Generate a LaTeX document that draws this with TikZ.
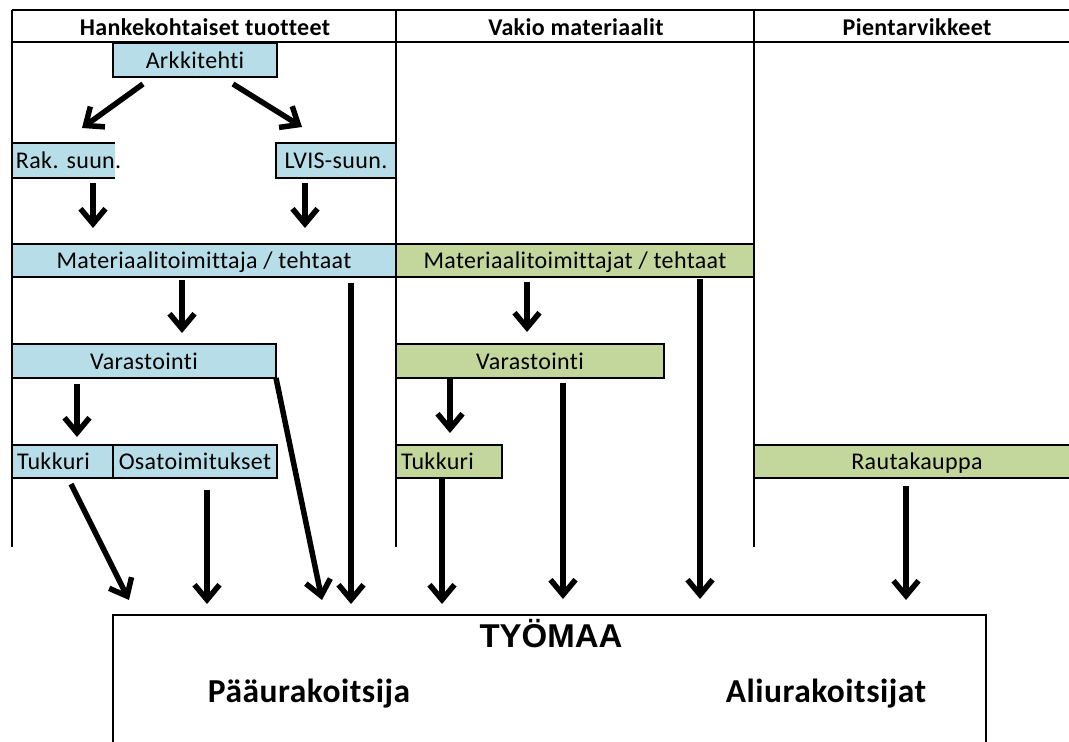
\documentclass[tikz,border=0pt]{standalone}
\usepackage{fontspec}
\setmainfont{Carlito}[LetterSpace=1.5, Ligatures=NoCommon]
\newfontfamily\sitefont{Liberation Sans}
\usetikzlibrary{arrows.meta,calc}

\definecolor{boxblue}{RGB}{183,222,232}
\definecolor{boxgreen}{RGB}{195,214,155}

\begin{document}
\begin{tikzpicture}[x=1pt,y=-1pt,
  tabline/.style={line width=2.5pt},
  box/.style={line width=2pt, inner sep=0pt, outer sep=0pt,
    font=\fontsize{24}{28}\selectfont, text height=21pt, text depth=4.4pt},
  bluebox/.style={box, draw, fill=boxblue},
  greenbox/.style={box, draw, fill=boxgreen},
  head/.style={inner sep=0pt, anchor=base, font=\bfseries\fontsize{24}{28}\selectfont},
  big/.style={inner sep=0pt, anchor=base, font=\sitefont\bfseries\fontsize{33}{38}\selectfont},
  party/.style={inner sep=0pt, anchor=base, font=\bfseries\fontsize{33.5}{38}\selectfont},
  arr/.style={line width=5.5pt, -{Straight Barb[length=15pt,width=25pt]}},
]
\useasboundingbox (0,0) rectangle (1069,742);
\fill[white] (0,0) rectangle (1069,742);
\clip (0,0) rectangle (1069,742);

% table frame
\draw[line width=1.5pt] (12,10) -- (1069,10);
\draw[tabline] (12,42) -- (1069,42);
\draw[line width=1.5pt] (12,10) -- (12,547);
\draw[tabline] (396,10) -- (396,547);
\draw[tabline] (754,10) -- (754,547);

% column headings
\node[head] (h1) at (205,35) {Hankekohtaiset tuotteet};
\node[head] (h2) at (576,35) {Vakio materiaalit};
\node[head] (h3) at (917,35) {Pientarvikkeet};

% project-specific products
\node[bluebox, minimum width=164pt, minimum height=34pt] (ark) at (195,60) {Arkkitehti};
\node[box, fill=boxblue, minimum height=35pt, text width=95pt, inner xsep=4pt, align=left] (rak) at (63.5,160.5) {Rak.~suun.};
\draw[line width=2pt] (rak.north east) -- (rak.north west) -- (rak.south west) -- (rak.south east);
\node[bluebox, minimum width=120pt, minimum height=35pt] (lvis) at (336,160.5) {LVIS-suun.};
\node[bluebox, minimum width=384pt, minimum height=33pt] (mainb) at (204,260.5) {Materiaalitoimittaja / tehtaat};
\node[bluebox, minimum width=264pt, minimum height=34pt] (varb) at (144,361) {Varastointi};
\node[bluebox, minimum height=33pt, text width=91pt, inner xsep=5pt, align=left] (tukb) at (62.5,461.5) {Tukkuri};
\node[bluebox, minimum width=164pt, minimum height=33pt] (osa) at (195,461.5) {Osatoimitukset};

% standard materials
\node[greenbox, minimum width=358pt, minimum height=33pt] (maing) at (575,260.5) {Materiaalitoimittajat / tehtaat};
\node[greenbox, minimum width=268pt, minimum height=34pt] (varg) at (530,361) {Varastointi};
\node[greenbox, minimum height=33pt, text width=96pt, inner xsep=5pt, align=left] (tukg) at (449,461.5) {Tukkuri};

% small supplies
\node[greenbox, minimum width=326pt, minimum height=33pt] (raut) at (917,461.5) {Rautakauppa};

% construction site
\node[box, draw, minimum width=873pt, minimum height=145pt] (site) at (549.5,687.5) {};
\node[big] (tyo) at (551,647) {TYÖMAA};
\node[party] (paa) at (309,702) {Pääurakoitsija};
\node[party] (ali) at (826,702) {Aliurakoitsijat};

% flows
\draw[arr] ($(ark.south)+(-52,7)$) -- ($(rak.north)+(18.5,-15)$);
\draw[arr] ($(ark.south)+(38,7)$) -- ($(lvis.north)+(-34,-16)$);
\draw[arr] ($(rak.south)+(29.5,5)$) -- ($(mainb.north)+(-111,-16)$);
\draw[arr] ($(lvis.south)+(-31,5)$) -- ($(mainb.north)+(101,-16)$);
\draw[arr] ($(mainb.south)+(-22,3)$) -- ($(varb.north)+(38,-11)$);
\draw[arr] ($(mainb.south)+(147,6)$) -- ($(site.north)+(-198.5,-11)$);
\draw[arr] ($(varb.south)+(-67,6)$) -- ($(tukb.north)+(14.5,-8)$);
\draw[arr] (varb.south east) -- ($(site.north)+(-227.5,-15)$);
\draw[arr] ($(tukb.south)+(8.5,6)$) -- ($(site.north)+(-420.5,-15)$);
\draw[arr] ($(osa.south)+(12,12)$) -- ($(site.north)+(-342.5,-11)$);
\draw[arr] ($(maing.south)+(-48,5)$) -- ($(varg.north)+(-3,-12)$);
\draw[arr] ($(maing.south)+(125,2)$) -- ($(site.north)+(150.5,-16)$);
\draw[arr] ($(varg.south)+(-80,0)$) -- ($(tukg.north)+(1,-12)$);
\draw[arr] ($(varg.south)+(33,5)$) -- ($(site.north)+(13.5,-16)$);
\draw[arr] ($(tukg.south)+(-7,0)$) -- ($(site.north)+(-107.5,-11)$);
\draw[arr] ($(raut.south)+(-11,8)$) -- ($(site.north)+(356.5,-15)$);
\end{tikzpicture}
\end{document}
